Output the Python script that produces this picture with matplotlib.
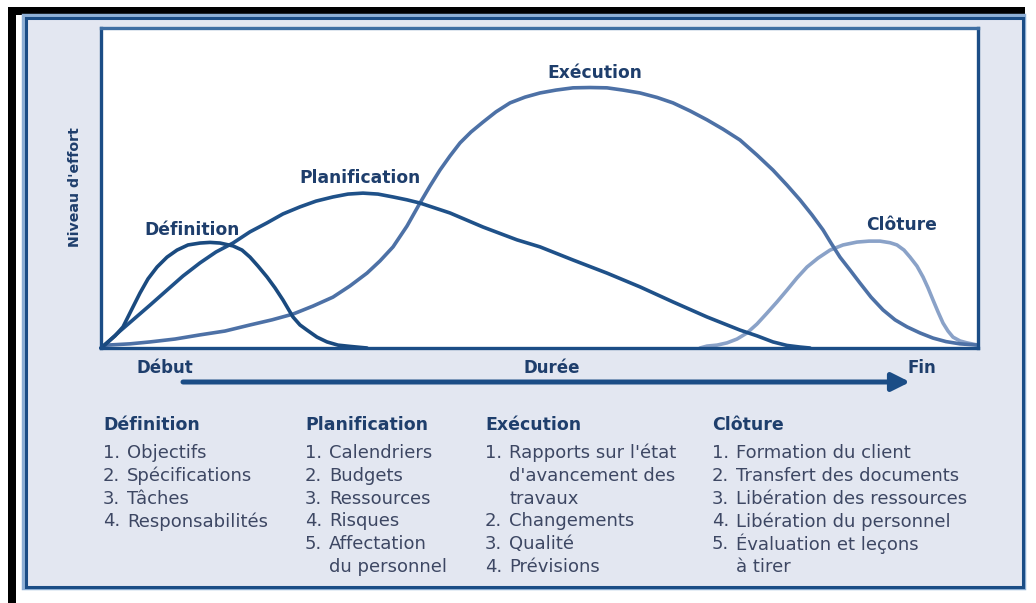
import matplotlib
matplotlib.use("Agg")
import matplotlib.pyplot as plt
from matplotlib.patches import Rectangle, FancyArrowPatch

plt.rcParams['font.family'] = ['DejaVu Sans']

# ---------------- data (effort curves, x = duration 0-100, y = effort 0-100) -------------
definition_x = [0, 0.68, 1.60, 2.51, 3.42, 4.45, 5.36, 6.39, 7.53, 8.67, 9.92, 11.29,
                12.43, 13.57, 15.05, 16.08, 16.99, 17.90, 18.93, 19.84, 20.75, 21.89,
                22.69, 23.49, 24.63, 25.77, 27.02, 28.39, 30.33]
definition_y = [0, 1.6, 3.8, 6.6, 11.6, 17.2, 21.6, 25.3, 28.4, 30.6, 32.2, 32.8,
                33.0, 32.8, 31.9, 30.6, 28.4, 25.6, 22.2, 18.8, 15.0, 9.7,
                7.2, 5.6, 3.4, 1.9, 0.9, 0.5, 0]

planification_x = [0, 0.68, 2.17, 3.65, 5.59, 7.53, 9.35, 11.29, 13.11, 15.05, 16.99,
                   18.93, 20.75, 22.69, 24.52, 26.45, 28.16, 29.87, 31.58, 33.30, 34.89,
                   36.37, 39.79, 43.56, 47.43, 50.06, 53.82, 57.70, 61.46, 65.22, 69.10,
                   72.86, 74.80, 76.62, 78.22, 79.70, 80.84]
planification_y = [0, 1.6, 5.3, 8.8, 13.4, 18.1, 22.5, 26.6, 30.0, 32.8, 36.3,
                   39.1, 41.9, 44.1, 45.9, 47.2, 48.1, 48.4, 48.1, 47.2, 46.3,
                   45.3, 42.2, 37.8, 33.8, 31.6, 27.5, 23.4, 19.1, 14.4, 9.7,
                   5.6, 3.8, 1.9, 0.8, 0.3, 0]

execution_x = [0, 0.68, 3.31, 5.59, 8.44, 11.29, 14.14, 16.99, 19.50, 21.89, 24.17,
               26.45, 28.39, 30.33, 31.81, 33.30, 34.89, 36.37, 37.51, 38.65, 39.79,
               40.94, 42.19, 43.56, 45.04, 46.64, 48.35, 50.06, 51.88, 53.82, 55.76,
               57.70, 59.52, 61.46, 63.40, 65.22, 67.16, 69.10, 70.92, 72.86, 74.80,
               76.62, 78.22, 79.70, 81.07, 82.33, 83.24, 84.26, 85.40, 86.54, 87.80,
               89.17, 90.54, 91.91, 93.39, 94.87, 96.35, 97.95, 100]
execution_y = [0, 0.9, 1.3, 1.9, 2.8, 4.1, 5.3, 7.2, 8.8, 10.6, 13.1,
               15.9, 19.4, 23.4, 27.2, 31.6, 38.1, 45.3, 50.6, 55.6, 60.0,
               64.1, 67.5, 70.6, 73.8, 76.6, 78.4, 79.7, 80.6, 81.3, 81.4,
               81.3, 80.6, 79.7, 78.3, 76.6, 74.1, 71.3, 68.4, 65.0, 60.3,
               55.6, 50.9, 46.3, 41.6, 36.9, 32.8, 28.4, 24.4, 20.3, 15.9,
               11.9, 8.8, 6.6, 4.7, 3.1, 2.0, 1.3, 0.9]

cloture_x = [68.30, 69.10, 70.24, 71.38, 72.52, 73.66, 74.80, 75.94, 77.08, 78.22,
             79.36, 80.50, 81.76, 83.13, 84.61, 86.20, 87.57, 88.83, 89.97, 90.76,
             91.56, 92.25, 93.04, 93.73, 94.30, 94.87, 95.44, 96.01, 96.58, 97.15,
             97.95, 98.75, 100]
cloture_y = [0, 0.6, 0.9, 1.6, 2.8, 4.7, 7.5, 10.9, 14.4, 18.1,
             21.9, 25.3, 28.1, 30.6, 32.2, 33.1, 33.4, 33.4, 32.9, 32.2,
             30.6, 28.4, 25.6, 22.2, 18.8, 15.0, 11.3, 7.8, 5.3, 3.4,
             2.2, 1.6, 0.9]

phase_names = ["Définition", "Planification", "Exécution", "Clôture"]

definition_items = ["Objectifs", "Spécifications", "Tâches", "Responsabilités"]
planification_items = ["Calendriers", "Budgets", "Ressources", "Risques",
                       "Affectation\ndu personnel"]
execution_items = ["Rapports sur l'état\nd'avancement des\ntravaux", "Changements",
                   "Qualité", "Prévisions"]
cloture_items = ["Formation du client", "Transfert des documents",
                 "Libération des ressources", "Libération du personnel",
                 "Évaluation et leçons\nà tirer"]

axis_start, axis_middle, axis_end = "Début", "Durée", "Fin"
y_label = "Niveau d'effort"

# ---------------- figure -------------
W, H = 1036, 603
fig = plt.figure(figsize=(W / 100, H / 100), dpi=100)
fig.patch.set_facecolor("white")


def fx(px):
    return px / W


def fy(py):
    return 1 - py / H


NAVY = "#1b4d86"
TXT = "#1e3e6c"
ITEM = "#3d4763"

# black frame bits
fig.add_artist(Rectangle((fx(8), fy(15)), fx(1025) - fx(8), fy(7) - fy(15),
                         transform=fig.transFigure, facecolor="black", edgecolor="none",
                         zorder=0))
fig.add_artist(Rectangle((fx(8), fy(603)), fx(16) - fx(8), fy(7) - fy(603),
                         transform=fig.transFigure, facecolor="black", edgecolor="none",
                         zorder=0))

# outer panel
fig.add_artist(Rectangle((fx(24), fy(588)), fx(1024) - fx(24), fy(16) - fy(588),
                         transform=fig.transFigure, facecolor="none",
                         edgecolor="#8fb0d6", lw=3.2, zorder=0))
fig.add_artist(Rectangle((fx(25.5), fy(586.5)), fx(1022.5) - fx(25.5), fy(17.5) - fy(586.5),
                         transform=fig.transFigure, facecolor="#e3e7f1",
                         edgecolor=NAVY, lw=2.2, zorder=0))

# plot axes
ax = fig.add_axes([fx(101), fy(348), fx(978) - fx(101), fy(28) - fy(348)])
ax.set_zorder(5)
ax.set_facecolor("white")
ax.set_xlim(0, 100)
ax.set_ylim(0, 100)
ax.set_xticks([])
ax.set_yticks([])
for side, sp in ax.spines.items():
    sp.set_color(NAVY if side in ("left", "bottom", "right") else "#3f6fa3")
    sp.set_linewidth(2.4)
    sp.set_zorder(5)

common = dict(lw=2.6, solid_joinstyle="round", solid_capstyle="round", clip_on=False)
ax.plot(cloture_x, cloture_y, color="#8aa2c8", zorder=2, **common)
ax.plot(execution_x, execution_y, color="#4d71a6", zorder=3, **common)
ax.plot(planification_x, planification_y, color="#1f5189", zorder=4, **common)
ax.plot(definition_x, definition_y, color="#1a4a7f", zorder=4, **common)

label_pos = [(10.4, 36.9), (29.5, 53.1), (56.3, 85.9), (91.3, 38.4)]
for name, (lx, ly) in zip(phase_names, label_pos):
    ax.text(lx, ly, name, ha="center", va="center", fontsize=12.3,
            fontweight="bold", color=TXT, zorder=6)

# y label
fig.text(fx(75), fy(187), y_label, rotation=90, ha="center", va="center",
         fontsize=10.2, fontweight="bold", color=TXT)

# duration axis
fig.text(fx(165), fy(368), axis_start, ha="center", va="center", fontsize=12,
         fontweight="bold", color=TXT)
fig.text(fx(552), fy(368), axis_middle, ha="center", va="center", fontsize=12,
         fontweight="bold", color=TXT)
fig.text(fx(922), fy(368), axis_end, ha="center", va="center", fontsize=12,
         fontweight="bold", color=TXT)
fig.add_artist(FancyArrowPatch((fx(183), fy(382)), (fx(910), fy(382)),
                               transform=fig.transFigure,
                               arrowstyle="-|>,head_length=0.9,head_width=0.45",
                               mutation_scale=12, lw=3.6, color=NAVY,
                               shrinkA=0, shrinkB=0, zorder=2))

# phase columns
col_x = [103, 305, 485, 712]
text_dx = 24
header_y = 425
line_y0 = 453
line_dy = 22.8
for name, items, cx in zip(phase_names,
                           [definition_items, planification_items,
                            execution_items, cloture_items], col_x):
    fig.text(fx(cx), fy(header_y), name, ha="left", va="center", fontsize=12.5,
             fontweight="bold", color=TXT)
    row = 0
    for i, item in enumerate(items):
        fig.text(fx(cx), fy(line_y0 + row * line_dy), f"{i + 1}.", ha="left",
                 va="center", fontsize=13, color=ITEM)
        for part in item.split("\n"):
            fig.text(fx(cx + text_dx), fy(line_y0 + row * line_dy), part, ha="left",
                     va="center", fontsize=13, color=ITEM)
            row += 1

fig.savefig("out.png", dpi=100, facecolor="white")
